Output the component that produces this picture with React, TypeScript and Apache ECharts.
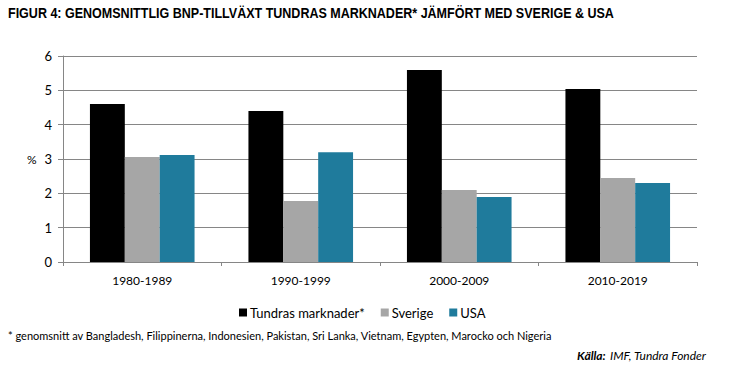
import React, { useEffect, useRef } from "react";
import * as echarts from "echarts";

const categories = ["1980-1989", "1990-1999", "2000-2009", "2010-2019"];
const tundra = [4.6, 4.4, 5.59, 5.04];
const sverige = [3.06, 1.78, 2.1, 2.45];
const usa = [3.12, 3.2, 1.89, 2.3];
const yTicks = [0, 1, 2, 3, 4, 5, 6];

const FONT = "Lato, 'Open Sans', sans-serif";

export default function App() {
  const ref = useRef<HTMLDivElement>(null);
  useEffect(() => {
    if (!ref.current) return;
    const chart = echarts.init(ref.current, null, { renderer: "svg" });
    chart.setOption({
      animation: false,
      backgroundColor: "#fff",
      grid: { left: 63, right: 35, top: 56, bottom: 113 },
      legend: {
        left: 234,
        top: 301,
        icon: "rect",
        itemWidth: 8,
        itemHeight: 8,
        itemGap: 16,
        textStyle: { fontFamily: FONT, fontSize: 13, color: "#000", padding: [0, 0, 0, -2] },
        data: ["Tundras marknader*", "Sverige", "USA"],
      },
      xAxis: {
        type: "category",
        data: categories,
        axisLine: { lineStyle: { color: "#868686", width: 1 } },
        axisTick: { show: true, length: 4, lineStyle: { color: "#868686" } },
        axisLabel: { fontFamily: FONT, fontSize: 12, color: "#000", margin: 12 },
      },
      yAxis: {
        type: "value",
        min: yTicks[0],
        max: yTicks[yTicks.length - 1],
        interval: 1,
        axisLine: { show: true, lineStyle: { color: "#868686", width: 1 } },
        axisTick: { show: true, length: 5, lineStyle: { color: "#868686" } },
        axisLabel: { fontFamily: FONT, fontSize: 13, color: "#000", margin: 11 },
        splitLine: { lineStyle: { color: "#868686", width: 1 } },
      },
      series: [
        { name: "Tundras marknader*", type: "bar", data: tundra, barGap: "0%", barCategoryGap: "34%", itemStyle: { color: "#000000" } },
        { name: "Sverige", type: "bar", data: sverige, barGap: "0%", barCategoryGap: "34%", itemStyle: { color: "#a6a6a6" } },
        { name: "USA", type: "bar", data: usa, barGap: "0%", barCategoryGap: "34%", itemStyle: { color: "#1f7b9c" } },
      ],
      graphic: [
        {
          type: "text",
          left: 8,
          top: 6,
          style: {
            text: "FIGUR 4: GENOMSNITTLIG BNP-TILLVÄXT TUNDRAS MARKNADER* JÄMFÖRT MED SVERIGE & USA",
            font: "bold 14px 'Liberation Sans', Arial, sans-serif",
            fill: "#000",
          },
          scaleX: 0.895,
        },
        {
          type: "text",
          x: 27,
          y: 153,
          style: { text: "%", font: `12px ${FONT}`, fill: "#000" },
        },
        {
          type: "text",
          x: 8,
          y: 330,
          style: {
            text: "* genomsnitt av Bangladesh, Filippinerna, Indonesien, Pakistan, Sri Lanka, Vietnam, Egypten, Marocko och Nigeria",
            font: `11px ${FONT}`,
            fill: "#000",
          },
        },
        {
          type: "text",
          x: 577,
          y: 349,
          style: { text: "Källa:", font: `italic bold 12px ${FONT}`, fill: "#000" },
        },
        {
          type: "text",
          x: 610,
          y: 349,
          style: { text: "IMF, Tundra Fonder", font: `italic 12px ${FONT}`, fill: "#000" },
        },
      ],
    });
    return () => chart.dispose();
  }, []);
  return <div ref={ref} style={{ position: "fixed", left: 0, top: 0, width: 732, height: 375 }} />;
}
